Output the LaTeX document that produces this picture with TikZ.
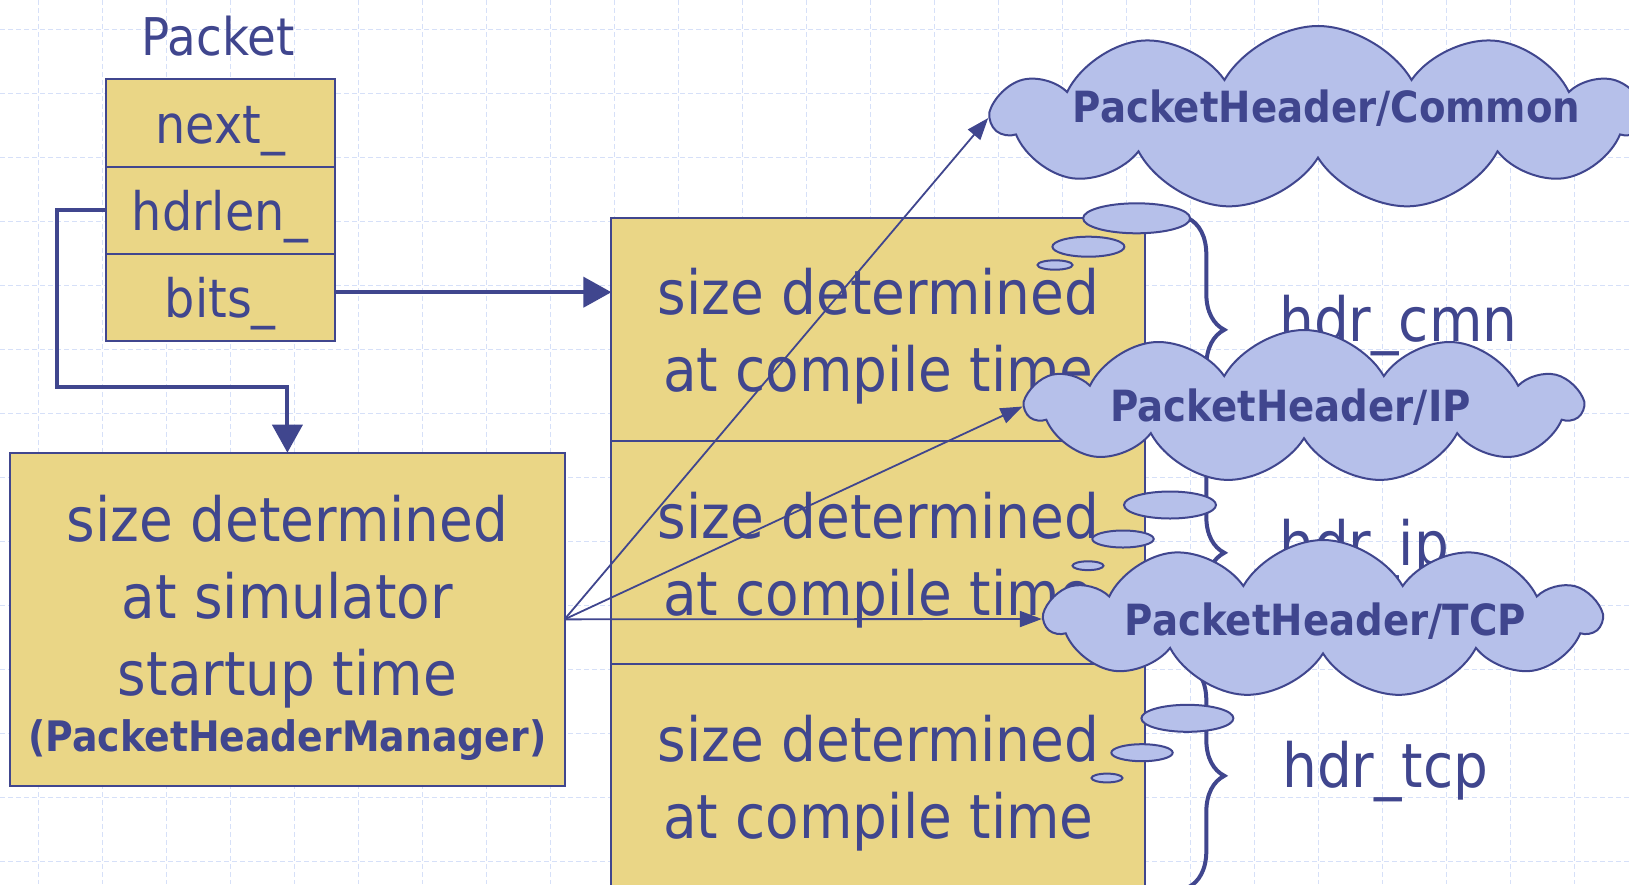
\documentclass[tikz,border=0pt]{standalone}
\usepackage{fontspec}
\setmainfont{DejaVu Sans}[FakeStretch=0.9]
\usetikzlibrary{positioning,arrows.meta,shapes.symbols,decorations.pathreplacing}

\definecolor{ink}{RGB}{64,70,142}
\definecolor{boxfill}{RGB}{234,214,134}
\definecolor{cloudfill}{RGB}{182,192,234}
\definecolor{gridblue}{RGB}{214,224,248}

\tikzset{
  gridline/.style={draw=gridblue, line width=1.5pt, dash pattern=on 5pt off 3pt},
  field/.style={draw=ink, line width=2pt, fill=boxfill, outer sep=0pt, inner sep=0pt,
    minimum width=229.3pt, minimum height=87.1pt, text height=40pt, text depth=0pt,
    text=ink, font=\fontsize{53}{60}\selectfont},
  packetlabel/.style={anchor=base, text=ink, inner sep=0pt, font=\fontsize{52}{60}\selectfont},
  sizebox/.style={draw=ink, line width=2pt, fill=boxfill, outer sep=0pt, inner sep=0pt},
  compilebox/.style={sizebox, minimum width=533.9pt, minimum height=223pt},
  bigtext/.style={anchor=base, text=ink, inner sep=0pt, font=\fontsize{61}{73}\selectfont},
  cloudbox/.style={cloud, cloud puffs=11, cloud puff arc=120, cloud ignores aspect,
    draw=ink, line width=2pt, fill=cloudfill, inner sep=0pt},
  cloudtext/.style={anchor=base, text=ink, inner sep=0pt, font=\bfseries\fontsize{43}{50}\selectfont},
  bubble/.style={draw=ink, line width=2pt, fill=cloudfill},
  hdrbrace/.style={draw=ink, line width=4pt, decorate, decoration={brace, amplitude=36pt}},
  thicklink/.style={draw=ink, line width=4pt, -{Triangle[length=28pt,width=30pt]}},
  thinlink/.style={draw=ink, line width=1.8pt, -{Triangle[length=22pt,width=16pt]}}
}

\begin{document}
\begin{tikzpicture}[x=1pt, y=-1pt]
\useasboundingbox (0,0) rectangle (1629,884);
\fill[white] (0,0) rectangle (1629,884);
% background grid
\foreach \gx in {0,...,24}
  \draw[gridline] (38.3+64*\gx,0) -- (38.3+64*\gx,884);
\foreach \gy in {0,...,13}
  \draw[gridline] (0,29.3+64*\gy) -- (1629,29.3+64*\gy);

% the packet
\node[packetlabel] (packet) at (218,55) {Packet};
\node[field] (next) at (220.25,123) {next\_};
\node[field, below=0pt of next] (hdrlen) {hdrlen\_};
\node[field, below=0pt of hdrlen] (bits) {bits\_};

% header manager
\node[sizebox, minimum width=554.2pt, minimum height=333.3pt] (manager) at (287.4,619.35) {};
\node[bigtext] (mgr1) at (287.4,541.7) {size determined};
\node[bigtext] (mgr2) at (287.4,618) {at simulator};
\node[bigtext] (mgr3) at (287.4,695) {startup time};
\node[bigtext, font=\bfseries\fontsize{42}{50}\selectfont] (mgr4) at (287.4,751.7) {(PacketHeaderManager)};

% the bits_ array
\node[compilebox] (cmnbox) at (878.35,329.8) {};
\node[compilebox, below=0pt of cmnbox] (ipbox) {};
\node[compilebox, below=0pt of ipbox] (tcpbox) {};
\foreach \b/\y in {cmn/314.6, ip/538.3, tcp/761.7} {
  \node[bigtext] (\b top) at (878.35,\y) {size determined};
  \node[bigtext] (\b bot) at (878.35,\y+76.7) {at compile time};
}

% braces and offsets
\foreach \b in {cmnbox,ipbox,tcpbox}
  \draw[hdrbrace] ([xshift=43pt]\b.north east) -- ([xshift=43pt]\b.south east);
\node[bigtext, anchor=base west] (lblcmn) at (1279,341) {hdr\_cmn};
\node[bigtext, anchor=base west] (lblip) at (1279,565) {hdr\_ip};
\node[bigtext, anchor=base west] (lbltcp) at (1282,787) {hdr\_tcp};

% header classes
\node[cloudbox, minimum width=650pt, minimum height=184pt] (commoncloud) at (1318,118) {};
\node[cloudtext] (commontext) at (1326.6,122.7) {PacketHeader/Common};
\draw[bubble] (1136.6,218.3) ellipse [x radius=53.5, y radius=15];
\draw[bubble] (1088.4,246.7) ellipse [x radius=36, y radius=10];
\draw[bubble] (1055,265) ellipse [x radius=17.5, y radius=4.7];

\node[cloudbox, minimum width=554pt, minimum height=153pt] (ipcloud) at (1304,406.5) {};
\node[cloudtext] (iptext) at (1290.5,421.7) {PacketHeader/IP};
\draw[bubble] (1170,505) ellipse [x radius=46, y radius=13.5];
\draw[bubble] (1123,539) ellipse [x radius=30.7, y radius=8.5];
\draw[bubble] (1088,565.7) ellipse [x radius=15.5, y radius=4.4];

\node[cloudbox, minimum width=554pt, minimum height=158pt] (tcpcloud) at (1323,619) {};
\node[cloudtext] (tcptext) at (1325.3,635) {PacketHeader/TCP};
\draw[bubble] (1187.4,718.3) ellipse [x radius=46, y radius=13.5];
\draw[bubble] (1142,752.7) ellipse [x radius=30.7, y radius=8.5];
\draw[bubble] (1107,778) ellipse [x radius=15.5, y radius=4.4];

% pointers
\coordinate (bend) at (57.4,386.7);
\draw[thicklink] (hdrlen.west) -| (bend) -| (manager.north);
\draw[thicklink] ([yshift=5pt]bits.east) -- ([yshift=5pt]bits.east -| cmnbox.west);
\draw[thinlink] (manager.east) -- (commoncloud.west);
\draw[thinlink] (manager.east) -- (ipcloud.west);
\draw[thinlink] (manager.east) -- (tcpcloud.west);
\end{tikzpicture}
\end{document}
